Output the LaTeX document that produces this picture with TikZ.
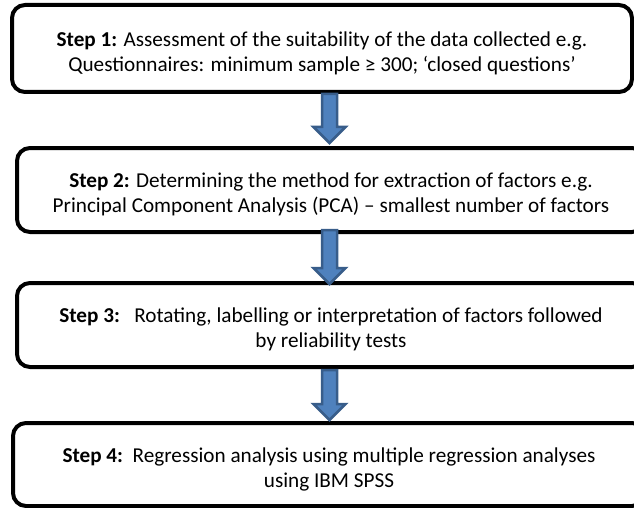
\documentclass[tikz,border=0pt]{standalone}
\usepackage{fontspec}
\setmainfont{Carlito}
\usetikzlibrary{calc}
\definecolor{arrowfill}{HTML}{4F81BD}
\definecolor{arrowline}{HTML}{385D8A}
\newcommand\topstrut{\rule{0pt}{24pt}}
\tikzset{
  stepbox/.style={draw=black, line width=4pt, rounded corners=13pt, fill=white,
    inner sep=0pt, align=center, font=\fontsize{21.2}{25}\selectfont},
  blockarrow/.style={fill=arrowfill, draw=arrowline, line width=2.5pt, line join=miter},
}
% down block arrow from coordinate #1 (top of shaft) to #2 (tip)
\newcommand\downarrowshape[2]{%
  \path[blockarrow] let \p1=(#1), \p2=(#2) in
    (\x1-7.5pt,\y1) -- (\x1+7.5pt,\y1) -- (\x1+7.5pt,\y2+16pt) -- (\x1+16pt,\y2+16pt)
    -- (\x2,\y2) -- (\x1-16pt,\y2+16pt) -- (\x1-7.5pt,\y2+16pt) -- cycle;}
\begin{document}
\begin{tikzpicture}[x=1pt, y=-1pt]
  \useasboundingbox (0,0) rectangle (634,508);
  \clip (0,0) rectangle (634,508);

  \node[stepbox, minimum width=620pt, minimum height=87pt] (b1) at (322,48.5)
    {\topstrut\textbf{Step 1:} Assessment of the suitability of the data collected e.g.\\
     Questionnaires: minimum sample ≥ 300; ‘closed questions’};
  \node[stepbox, minimum width=628pt, minimum height=84pt] (b2) at (331,190)
    {\topstrut\textbf{Step 2:} Determining the method for extraction of factors e.g.\\
     Principal Component Analysis (PCA) – smallest number of factors};
  \node[stepbox, minimum width=628pt, minimum height=84pt] (b3) at (331,325)
    {\topstrut\textbf{Step 3:}\ \ \ Rotating, labelling or interpretation of factors followed\\
     by reliability tests};
  \node[stepbox, minimum width=632pt, minimum height=83pt] (b4) at (329,464.5)
    {\topstrut\textbf{Step 4:}\ \ Regression analysis using multiple regression analyses\\
     using IBM SPSS};

  % arrow axis
  \coordinate (ax) at (329.5,0);
  \coordinate (a1s) at ($(b1.south -| ax)+(0,0)$);
  \coordinate (a1e) at ($(b2.north -| ax)+(0,-3)$);
  \coordinate (a2s) at ($(b2.south -| ax)+(0,-4)$);
  \coordinate (a2e) at ($(b3.north -| ax)+(0,3)$);
  \coordinate (a3s) at ($(b3.south -| ax)+(0,1)$);
  \coordinate (a3e) at ($(b4.north -| ax)+(0,-1)$);
  \downarrowshape{a1s}{a1e}
  \downarrowshape{a2s}{a2e}
  \downarrowshape{a3s}{a3e}
\end{tikzpicture}
\end{document}
